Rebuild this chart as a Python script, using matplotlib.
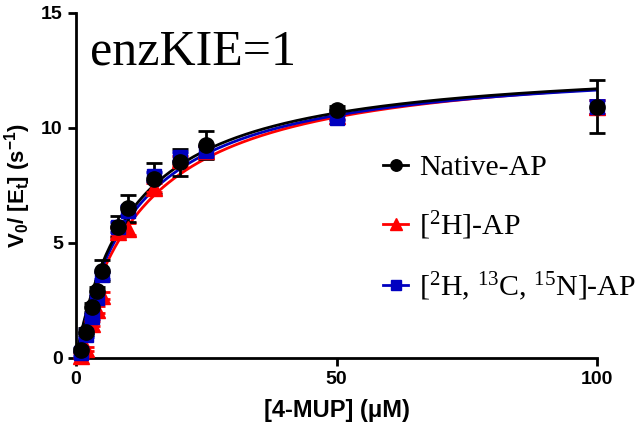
import numpy as np
import matplotlib
matplotlib.use("Agg")
import matplotlib.pyplot as plt

# substrate concentrations (uM)
conc = [1, 2, 3, 4, 5, 8, 10, 15, 20, 25, 50, 100]

native = [0.35, 1.14, 2.2, 2.9, 3.8, 5.7, 6.5, 7.8, 8.5, 9.26, 10.8, 10.93]
native_err = [0.1, 0.15, 0.2, 0.2, 0.46, 0.46, 0.6, 0.68, 0.57, 0.6, 0.15, 1.15]

heavy2h = [0.1, 0.4, 1.5, 2.1, 2.7, 5.5, 5.6, 7.4, 8.6, 9.0, 10.5, 10.9]
heavy2h_err = [0.1, 0.1, 0.1, 0.15, 0.15, 0.2, 0.25, 0.2, 0.2, 0.2, 0.1, 0.3]

heavyall = [0.2, 1.0, 1.8, 2.6, 3.6, 5.7, 6.4, 7.9, 8.75, 9.0, 10.45, 10.9]
heavyall_err = [0.1, 0.1, 0.1, 0.15, 0.15, 0.2, 0.2, 0.2, 0.2, 0.2, 0.1, 0.3]

# Michaelis-Menten fit parameters (Vmax, Km)
fit_native = (12.98, 10.9)
fit_2h = (13.2, 13.0)
fit_all = (13.0, 11.6)

labels = ["Native-AP", r"[$\mathregular{^2}$H]-AP",
          r"[$\mathregular{^2}$H, $\mathregular{^{13}}$C, $\mathregular{^{15}}$N]-AP"]

def mm(s, vmax, km):
    return vmax * s / (km + s)

fig = plt.figure(figsize=(6.4, 4.34), dpi=100)
ax = fig.add_axes([76 / 640, 1 - 358 / 434, (597 - 76) / 640, (358 - 13) / 434])

xs = np.linspace(0, 100, 400)
series = [
    (heavy2h, heavy2h_err, fit_2h, "red", "^", labels[1], 11),
    (heavyall, heavyall_err, fit_all, "#0000c0", "s", labels[2], 10),
    (native, native_err, fit_native, "black", "o", labels[0], 11),
]
handles = {}
for y, e, p, c, m, lab, ms in series:
    ax.plot(xs, mm(xs, *p), color=c, lw=2, zorder=2)
    eb = ax.errorbar(conc, y, yerr=e, fmt=m, color=c, ms=ms, capsize=6,
                     elinewidth=2, capthick=2, zorder=3, ls="none")
    for art in eb.get_children():
        art.set_clip_on(False)
    handles[lab] = ax.plot([], [], color=c, marker=m, ms=ms * 0.75, lw=2)[0]

ax.set_xlim(0, 100)
ax.set_ylim(0, 15)
ax.set_xticks([0, 50, 100])
ax.set_yticks([0, 5, 10, 15])
for s in ["top", "right"]:
    ax.spines[s].set_visible(False)
for s in ["left", "bottom"]:
    ax.spines[s].set_linewidth(2)
ax.tick_params(width=2, length=6, direction="out")
for t in ax.get_xticklabels() + ax.get_yticklabels():
    t.set_fontfamily("Liberation Sans")
    t.set_fontweight("bold")
    t.set_fontsize(14)

ax.set_xlabel("[4-MUP] (μM)", fontfamily="Liberation Sans", fontweight="bold",
              fontsize=17, labelpad=8)
ax.set_ylabel(r"V$\mathregular{_0}$/ [E$\mathregular{_t}$] (s$\mathregular{^{-1}}$)",
              fontfamily="Liberation Sans", fontweight="bold", fontsize=16, labelpad=6)

ax.text(0.027, 0.955, "enzKIE=1", transform=ax.transAxes, fontfamily="Liberation Serif",
        fontsize=36, va="top", ha="left")

leg = ax.legend([handles[l] for l in labels], labels, loc="center left",
                bbox_to_anchor=(0.566, 0.375), frameon=False, borderaxespad=0,
                prop={"family": "Liberation Serif", "size": 21.5},
                handlelength=0.85, labelspacing=0.95, handletextpad=0.35)

fig.savefig("out.png", dpi=100)
